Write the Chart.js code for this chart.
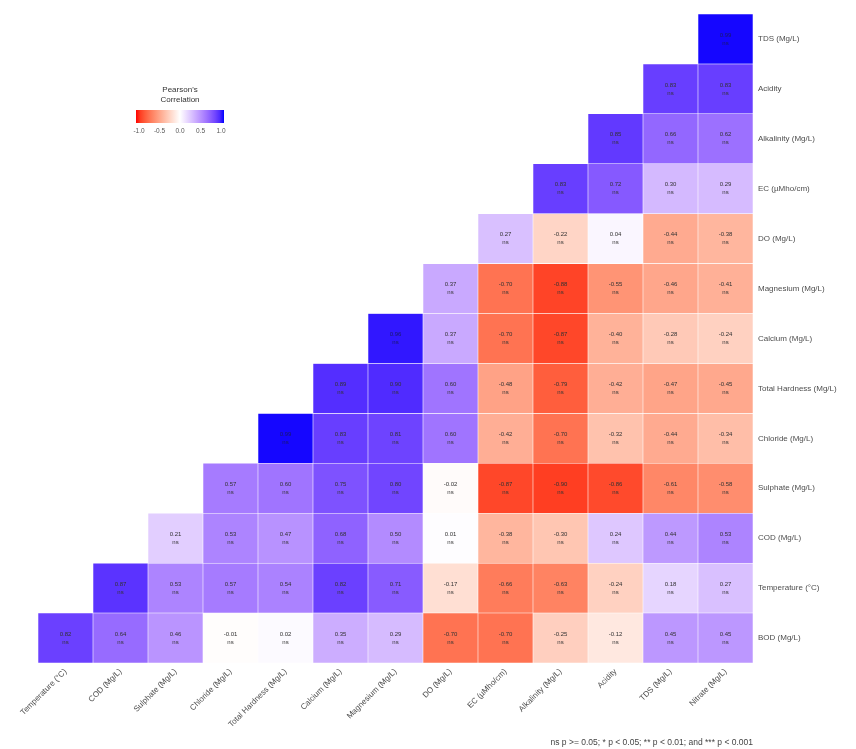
<!DOCTYPE html>
<html>
<head>
<meta charset="utf-8">
<script src="https://cdn.jsdelivr.net/npm/chart.js@4"></script>
<style>
html, body { margin: 0; padding: 0; background: #fff; }
#wrap { width: 856px; height: 749px; }
</style>
</head>
<body>
<div id="wrap"><canvas id="corr"></canvas></div>
<script>
// x categories (left to right) and y rows (bottom to top)
const columns = ['Temperature (°C)', 'COD (Mg/L)', 'Sulphate (Mg/L)', 'Chloride (Mg/L)', 'Total Hardness (Mg/L)',
    'Calcium (Mg/L)', 'Magnesium (Mg/L)', 'DO (Mg/L)', 'EC (µMho/cm)', 'Alkalinity (Mg/L)', 'Acidity', 'TDS (Mg/L)', 'Nitrate (Mg/L)'];
const rows = ['BOD (Mg/L)', 'Temperature (°C)', 'COD (Mg/L)', 'Sulphate (Mg/L)', 'Chloride (Mg/L)', 'Total Hardness (Mg/L)',
    'Calcium (Mg/L)', 'Magnesium (Mg/L)', 'DO (Mg/L)', 'EC (µMho/cm)', 'Alkalinity (Mg/L)', 'Acidity', 'TDS (Mg/L)'];

// correlation per row, one entry per column (null = no cell)
const bod         = [0.82, 0.64, 0.46, -0.01, 0.02, 0.35, 0.29, -0.70, -0.70, -0.25, -0.12, 0.45, 0.45];
const temperature = [null, 0.87, 0.53, 0.57, 0.54, 0.82, 0.71, -0.17, -0.66, -0.63, -0.24, 0.18, 0.27];
const cod         = [null, null, 0.21, 0.53, 0.47, 0.68, 0.50, 0.01, -0.38, -0.30, 0.24, 0.44, 0.53];
const sulphate    = [null, null, null, 0.57, 0.60, 0.75, 0.80, -0.02, -0.87, -0.90, -0.86, -0.61, -0.58];
const chloride    = [null, null, null, null, 0.99, 0.83, 0.81, 0.60, -0.42, -0.70, -0.32, -0.44, -0.34];
const hardness    = [null, null, null, null, null, 0.89, 0.90, 0.60, -0.48, -0.79, -0.42, -0.47, -0.45];
const calcium     = [null, null, null, null, null, null, 0.96, 0.37, -0.70, -0.87, -0.40, -0.28, -0.24];
const magnesium   = [null, null, null, null, null, null, null, 0.37, -0.70, -0.88, -0.55, -0.46, -0.41];
const dissolvedO2 = [null, null, null, null, null, null, null, null, 0.27, -0.22, 0.04, -0.44, -0.38];
const ec          = [null, null, null, null, null, null, null, null, null, 0.83, 0.72, 0.30, 0.29];
const alkalinity  = [null, null, null, null, null, null, null, null, null, null, 0.85, 0.66, 0.62];
const acidity     = [null, null, null, null, null, null, null, null, null, null, null, 0.83, 0.83];
const tds         = [null, null, null, null, null, null, null, null, null, null, null, null, 0.99];
const matrix = [bod, temperature, cod, sulphate, chloride, hardness, calcium, magnesium, dissolvedO2, ec, alkalinity, acidity, tds];

const legendTicks = [-1.0, -0.5, 0.0, 0.5, 1.0];
const footnote = 'ns p >= 0.05; * p < 0.05; ** p < 0.01; and *** p < 0.001';

// red - white - blue, interpolated in Lab like ggplot's gradient2
function toLin(c) { c /= 255; return c <= 0.04045 ? c / 12.92 : Math.pow((c + 0.055) / 1.055, 2.4); }
function fromLin(c) { c = c <= 0.0031308 ? 12.92 * c : 1.055 * Math.pow(c, 1 / 2.4) - 0.055; return Math.max(0, Math.min(255, Math.round(c * 255))); }
function rgbToLab(rgb) {
    const r = toLin(rgb[0]), g = toLin(rgb[1]), b = toLin(rgb[2]);
    let x = (r * 0.4124 + g * 0.3576 + b * 0.1805) / 0.95047;
    let y = (r * 0.2126 + g * 0.7152 + b * 0.0722);
    let z = (r * 0.0193 + g * 0.1192 + b * 0.9505) / 1.08883;
    const f = t => t > 0.008856 ? Math.cbrt(t) : 7.787 * t + 16 / 116;
    x = f(x); y = f(y); z = f(z);
    return [116 * y - 16, 500 * (x - y), 200 * (y - z)];
}
function labToRgb(lab) {
    let y = (lab[0] + 16) / 116, x = lab[1] / 500 + y, z = y - lab[2] / 200;
    const fi = t => t * t * t > 0.008856 ? t * t * t : (t - 16 / 116) / 7.787;
    x = fi(x) * 0.95047; y = fi(y); z = fi(z) * 1.08883;
    const r = x * 3.2406 + y * -1.5372 + z * -0.4986;
    const g = x * -0.9689 + y * 1.8758 + z * 0.0415;
    const b = x * 0.0557 + y * -0.2040 + z * 1.0570;
    return [fromLin(r), fromLin(g), fromLin(b)];
}
const WHITE = rgbToLab([255, 255, 255]), RED = rgbToLab([255, 0, 0]), BLUE = rgbToLab([0, 0, 255]);
function fillFor(v) {
    const end = v < 0 ? RED : BLUE, t = Math.min(1, Math.abs(v));
    const c = labToRgb([0, 1, 2].map(i => WHITE[i] + (end[i] - WHITE[i]) * t));
    return 'rgb(' + c.join(',') + ')';
}

const FONT = "'Liberation Sans', Arial, sans-serif";

const datasets = matrix.map((vals, r) => ({
    label: rows[r],
    data: vals.map(v => v == null ? null : [r - 0.5, r + 0.5]),
    values: vals,
    backgroundColor: vals.map(v => v == null ? 'rgba(0,0,0,0)' : fillFor(v)),
    borderColor: 'rgba(255,255,255,0.35)',
    borderWidth: 0.6,
    borderSkipped: false,
    grouped: false,
    barPercentage: 1,
    categoryPercentage: 1
}));

const cellText = {
    id: 'cellText',
    afterDatasetsDraw(chart) {
        const ctx = chart.ctx;
        ctx.save();
        ctx.fillStyle = '#333';
        ctx.font = '6px ' + FONT;
        ctx.textAlign = 'center';
        ctx.textBaseline = 'middle';
        chart.data.datasets.forEach((ds, i) => {
            chart.getDatasetMeta(i).data.forEach((el, j) => {
                const v = ds.values[j];
                if (v == null) return;
                const p = el.getCenterPoint();
                ctx.fillStyle = Math.abs(v) > 0.93 ? '#1a1a66' : '#333';
                ctx.fillText(v.toFixed(2), p.x, p.y - 4);
                ctx.fillText('ns', p.x, p.y + 4);
            });
        });
        ctx.restore();
    }
};

const legendAndNote = {
    id: 'legendAndNote',
    afterDraw(chart) {
        const ctx = chart.ctx;
        ctx.save();
        // colour key
        const x0 = 136, x1 = 224, y0 = 110, h = 13;
        const grad = ctx.createLinearGradient(x0, 0, x1, 0);
        for (let k = 0; k <= 20; k++) grad.addColorStop(k / 20, fillFor(-1 + k / 10));
        ctx.fillStyle = grad;
        ctx.fillRect(x0, y0, x1 - x0, h);
        ctx.fillStyle = '#333';
        ctx.textAlign = 'center';
        ctx.textBaseline = 'middle';
        ctx.font = '8px ' + FONT;
        ctx.fillText("Pearson's", 180, 90);
        ctx.fillText('Correlation', 180, 100);
        ctx.font = '6.5px ' + FONT;
        ctx.fillStyle = '#555';
        legendTicks.forEach(t => {
            const x = x0 + 3 + (t + 1) / 2 * (x1 - x0 - 6);
            ctx.fillText(t.toFixed(1), x, 131);
        });
        // footnote
        ctx.font = '8.5px ' + FONT;
        ctx.fillStyle = '#444';
        ctx.textAlign = 'right';
        ctx.fillText(footnote, chart.chartArea.right, 743);
        ctx.restore();
    }
};

new Chart(document.getElementById('corr'), {
    type: 'bar',
    data: { labels: columns, datasets: datasets },
    options: {
        responsive: true,
        maintainAspectRatio: false,
        animation: false,
        layout: { padding: { left: 38, top: 14, right: 0, bottom: 0 } },
        scales: {
            x: {
                offset: true,
                grid: { display: false, drawTicks: false },
                border: { display: false },
                ticks: {
                    minRotation: 45, maxRotation: 45, padding: 4,
                    color: '#4d4d4d', font: { size: 8, family: FONT }
                },
                afterFit(scale) { scale.height = 86; }
            },
            y: {
                type: 'linear',
                position: 'right',
                min: -0.5, max: 12.5,
                grid: { display: false, drawTicks: false },
                border: { display: false },
                afterBuildTicks(scale) { scale.ticks = rows.map((_, i) => ({ value: i })); },
                ticks: {
                    padding: 5,
                    color: '#4d4d4d', font: { size: 8, family: FONT },
                    callback: v => rows[v]
                },
                afterFit(scale) { scale.width = 103; }
            }
        },
        plugins: {
            legend: { display: false },
            tooltip: { enabled: false }
        }
    },
    plugins: [cellText, legendAndNote]
});
</script>
</body>
</html>
